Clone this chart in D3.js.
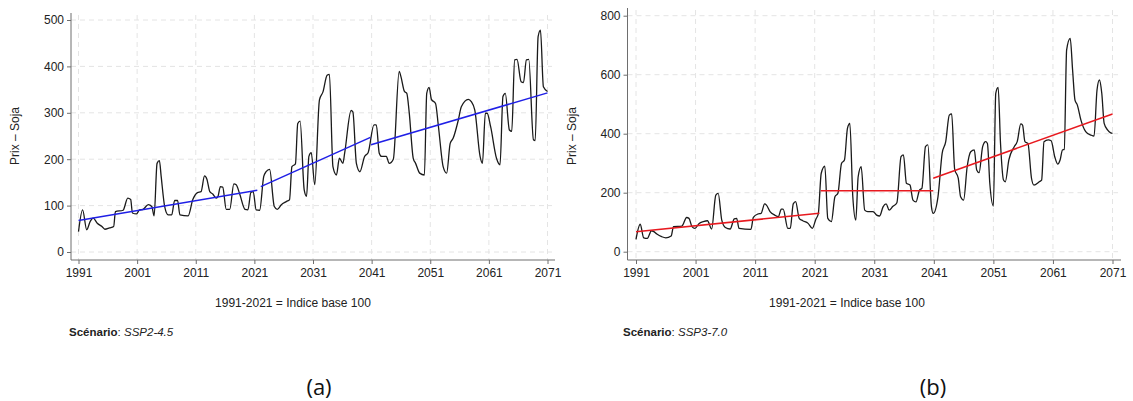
<!DOCTYPE html>
<html>
<head>
<meta charset="utf-8">
<script src="https://cdn.jsdelivr.net/npm/d3@7"></script>
<style>
  body { margin: 0; background: #fff; }
  svg { display: block; font-family: "Liberation Sans", Arial, sans-serif; }
</style>
</head>
<body>
<svg id="chart" width="1133" height="401"></svg>
<script>
// ---- Data -------------------------------------------------------------
const yearTicks = [1991, 2001, 2011, 2021, 2031, 2041, 2051, 2061, 2071];
const priceTicksA = [0, 100, 200, 300, 400, 500];
const priceTicksB = [0, 200, 400, 600, 800];

// Soybean price index, scenario SSP2-4.5
const yearsA = [1991.0,1991.7,1992.4,1993.0,1993.5,1994.2,1995.0,1995.5,1996.3,1997.0,1997.3,1998.6,1999.4,1999.9,2000.2,2000.9,
  2001.4,2002.0,2002.9,2003.5,2003.9,2004.4,2004.8,2005.1,2005.7,2006.3,2006.9,2007.4,2007.9,2008.3,2009.7,2010.5,2011.3,2011.9,
  2012.5,2012.9,2013.4,2013.9,2014.5,2014.8,2015.2,2015.6,2016.2,2016.8,2017.5,2017.9,2018.5,2019.4,2019.9,2020.4,2020.8,2021.3,
  2021.9,2022.6,2023.0,2023.6,2024.4,2024.9,2025.6,2026.5,2027.0,2027.4,2028.0,2028.4,2028.8,2029.5,2029.9,2030.3,2030.7,2031.3,
  2032.1,2032.7,2033.4,2033.8,2034.4,2035.0,2035.5,2036.1,2036.4,2037.5,2037.8,2038.4,2039.0,2039.8,2040.4,2041.4,2041.8,2042.3,
  2042.7,2043.5,2044.0,2044.7,2045.7,2046.0,2046.6,2047.0,2047.4,2048.1,2048.5,2049.2,2050.0,2050.4,2050.8,2051.2,2051.9,2052.4,
  2053.2,2053.8,2054.4,2054.9,2055.8,2056.3,2057.5,2058.0,2058.6,2059.5,2059.9,2060.4,2060.7,2061.3,2062.3,2062.9,2063.4,2063.8,
  2064.5,2064.9,2065.4,2065.8,2066.5,2066.9,2067.4,2067.8,2068.6,2068.9,2069.4,2069.8,2070.3,2071.0];
const prixA = [44,91,48,66,73,62,55,49,52,55,87,90,116,113,84,82,
  91,92,102,98,78,191,197,163,98,80,80,111,111,80,78,113,128,130,
  164,157,130,125,116,120,141,140,92,92,147,145,125,92,91,128,130,91,
  90,163,173,178,98,92,102,109,113,184,190,277,282,134,120,206,214,145,
  328,345,381,383,184,166,202,191,213,305,302,191,173,206,214,274,274,213,
  206,206,191,200,389,378,346,342,302,202,191,170,166,342,355,329,320,270,
  184,170,234,245,285,313,329,324,306,206,191,299,299,270,202,188,335,342,
  263,260,414,415,367,365,414,415,242,240,464,478,356,346];

// Piecewise trend lines, SSP2-4.5
const trendYearsA = [[1991, 2021.5], [2022.1, 2040.8], [2040.9, 2071]];
const trendValuesA = [[68, 133], [141, 247], [231, 343]];

// Soybean price index, scenario SSP3-7.0
const yearsB = [1991.0,1991.7,1992.3,1992.9,1993.6,1994.0,1994.5,1995.3,1996.0,1996.9,1997.3,1998.7,1999.5,1999.9,2000.4,2000.9,
  2001.6,2002.3,2003.0,2003.7,2004.4,2004.8,2005.4,2006.0,2006.8,2007.5,2007.9,2008.3,2010.3,2010.7,2011.5,2012.0,2012.6,2012.9,
  2013.5,2014.3,2014.9,2015.4,2015.7,2016.5,2016.9,2017.4,2017.8,2018.4,2019.0,2019.9,2020.6,2021.2,2021.6,2022.1,2022.7,2023.2,
  2023.8,2024.4,2024.9,2025.5,2026.0,2026.5,2026.9,2027.4,2027.9,2028.3,2028.8,2029.4,2029.9,2030.8,2031.4,2031.9,2032.5,2033.0,
  2033.5,2034.1,2034.8,2035.5,2035.9,2036.4,2037.0,2037.5,2038.0,2038.6,2039.0,2039.6,2040.0,2040.6,2040.9,2041.7,2042.4,2043.0,
  2043.6,2044.0,2044.5,2045.1,2045.5,2046.0,2046.6,2047.2,2047.8,2048.2,2048.6,2049.2,2049.7,2050.0,2050.4,2051.0,2051.4,2051.8,
  2052.2,2052.7,2053.0,2053.6,2054.5,2055.0,2055.6,2055.9,2056.3,2056.8,2057.4,2057.8,2058.7,2059.1,2059.5,2060.2,2060.7,2061.3,
  2061.8,2062.2,2062.6,2062.9,2063.3,2063.9,2064.3,2064.7,2065.1,2065.7,2066.5,2067.4,2067.9,2068.4,2068.8,2069.2,2069.6,2070.2,
  2070.7,2071.0];
const prixB = [42,93,47,45,71,68,60,51,47,53,85,87,116,113,85,79,
  96,102,105,77,192,198,107,82,77,111,113,79,76,116,128,130,162,158,
  136,124,119,144,144,79,79,162,170,113,105,96,79,110,128,266,290,113,
  102,186,198,299,311,418,435,186,107,254,288,141,136,136,124,121,153,162,
  141,153,166,322,328,232,226,175,169,209,215,356,362,153,130,186,333,373,
  463,467,280,249,186,175,288,339,345,277,268,356,373,367,232,155,537,557,
  367,243,237,311,356,373,433,429,373,367,249,226,237,243,373,379,376,322,
  297,311,345,347,684,723,616,514,497,446,407,395,392,548,582,537,435,412,
  403,401];

// Piecewise trend lines, SSP3-7.0
const trendYearsB = [[1991, 2021.8], [2022.0, 2040.9], [2040.9, 2071]];
const trendValuesB = [[68, 130], [207, 207], [249, 467]];

// ---- Drawing ----------------------------------------------------------
const svg = d3.select("#chart");

const panels = [
  { years: yearsA, values: prixA, trendYears: trendYearsA, trendValues: trendValuesA,
    yTicks: priceTicksA, yMax: 500, trendColor: "#1f1fe6",
    x0: 78.5, x1: 547.5, y0: 252, y1: 20, axisLeft: 71, axisRight: 555, axisTop: 13, axisBottom: 260,
    gridRight: 552, yTitleX: 16, xTitleX: 293, noteX: 69, scenario: "SSP2-4.5", tag: "(a)", tagX: 319 },
  { years: yearsB, values: prixB, trendYears: trendYearsB, trendValues: trendValuesB,
    yTicks: priceTicksB, yMax: 800, trendColor: "#e8191f",
    x0: 636, x1: 1112.5, y0: 251.7, y1: 15.7, axisLeft: 627.5, axisRight: 1121, axisTop: 8, axisBottom: 260,
    gridRight: 1118, yTitleX: 573, xTitleX: 847, noteX: 623, scenario: "SSP3-7.0", tag: "(b)", tagX: 933 }
];

panels.forEach(p => {
  const x = d3.scaleLinear().domain([1991, 2071]).range([p.x0, p.x1]);
  const y = d3.scaleLinear().domain([0, p.yMax]).range([p.y0, p.y1]);
  const g = svg.append("g");

  // grid
  g.append("g").selectAll("line.h").data(p.yTicks).join("line")
    .attr("x1", p.axisLeft).attr("x2", p.gridRight)
    .attr("y1", d => y(d)).attr("y2", d => y(d))
    .attr("stroke", "#e4e4e4").attr("stroke-width", 1).attr("stroke-dasharray", "5,4");
  g.append("g").selectAll("line.v").data(yearTicks).join("line")
    .attr("x1", d => x(d)).attr("x2", d => x(d))
    .attr("y1", p.axisTop + 2).attr("y2", p.axisBottom)
    .attr("stroke", "#e4e4e4").attr("stroke-width", 1).attr("stroke-dasharray", "5,4");

  // axes
  const xAxis = d3.axisBottom(x).tickValues(yearTicks).tickFormat(d3.format("d")).tickSize(4).tickPadding(4);
  const gx = g.append("g").attr("transform", `translate(0,${p.axisBottom})`).call(xAxis);
  gx.select(".domain").remove();
  gx.append("line").attr("x1", p.axisLeft).attr("x2", p.axisRight).attr("stroke", "#6e6e6e");
  gx.selectAll(".tick line").attr("stroke", "#6e6e6e");
  gx.selectAll("text").attr("font-size", 12).attr("fill", "#222").attr("font-family", "Liberation Sans, Arial, sans-serif");

  const yAxis = d3.axisLeft(y).tickValues(p.yTicks).tickSize(4).tickPadding(3);
  const gy = g.append("g").attr("transform", `translate(${p.axisLeft},0)`).call(yAxis);
  gy.select(".domain").remove();
  gy.append("line").attr("y1", p.axisTop).attr("y2", p.axisBottom).attr("stroke", "#6e6e6e");
  gy.selectAll(".tick line").attr("stroke", "#6e6e6e");
  gy.selectAll("text").attr("font-size", 12).attr("fill", "#222").attr("font-family", "Liberation Sans, Arial, sans-serif");

  // series
  const pts = p.years.map((yr, i) => [yr, p.values[i]]);
  const line = d3.line().x(d => x(d[0])).y(d => y(d[1])).curve(d3.curveMonotoneX);
  g.append("path").datum(pts).attr("d", line)
    .attr("fill", "none").attr("stroke", "#1a1a1a").attr("stroke-width", 1.3).attr("stroke-linejoin", "round");

  // trend segments
  p.trendYears.forEach((ys, k) => {
    const seg = ys.map((yr, i) => [yr, p.trendValues[k][i]]);
    g.append("path").datum(seg).attr("d", d3.line().x(d => x(d[0])).y(d => y(d[1])))
      .attr("fill", "none").attr("stroke", p.trendColor).attr("stroke-width", 1.5);
  });

  // titles
  g.append("text").attr("transform", `translate(${p.yTitleX},136) rotate(-90)`)
    .attr("text-anchor", "middle").attr("dominant-baseline", "middle")
    .attr("font-size", 12).attr("fill", "#222").text("Prix \u2013 Soja");
  g.append("text").attr("x", p.xTitleX).attr("y", 307).attr("text-anchor", "middle")
    .attr("font-size", 12).attr("fill", "#222").text("1991-2021 = Indice base 100");

  const note = g.append("text").attr("x", p.noteX).attr("y", 336).attr("font-size", 11.5).attr("fill", "#222");
  note.append("tspan").attr("font-weight", "bold").text("Scénario");
  note.append("tspan").text(": ");
  note.append("tspan").attr("font-style", "italic").text(p.scenario);

  g.append("text").attr("x", p.tagX).attr("y", 395).attr("text-anchor", "middle")
    .attr("font-size", 22).attr("fill", "#111").attr("font-family", "Open Sans, Liberation Sans, sans-serif")
    .text(p.tag);
});
</script>
</body>
</html>
